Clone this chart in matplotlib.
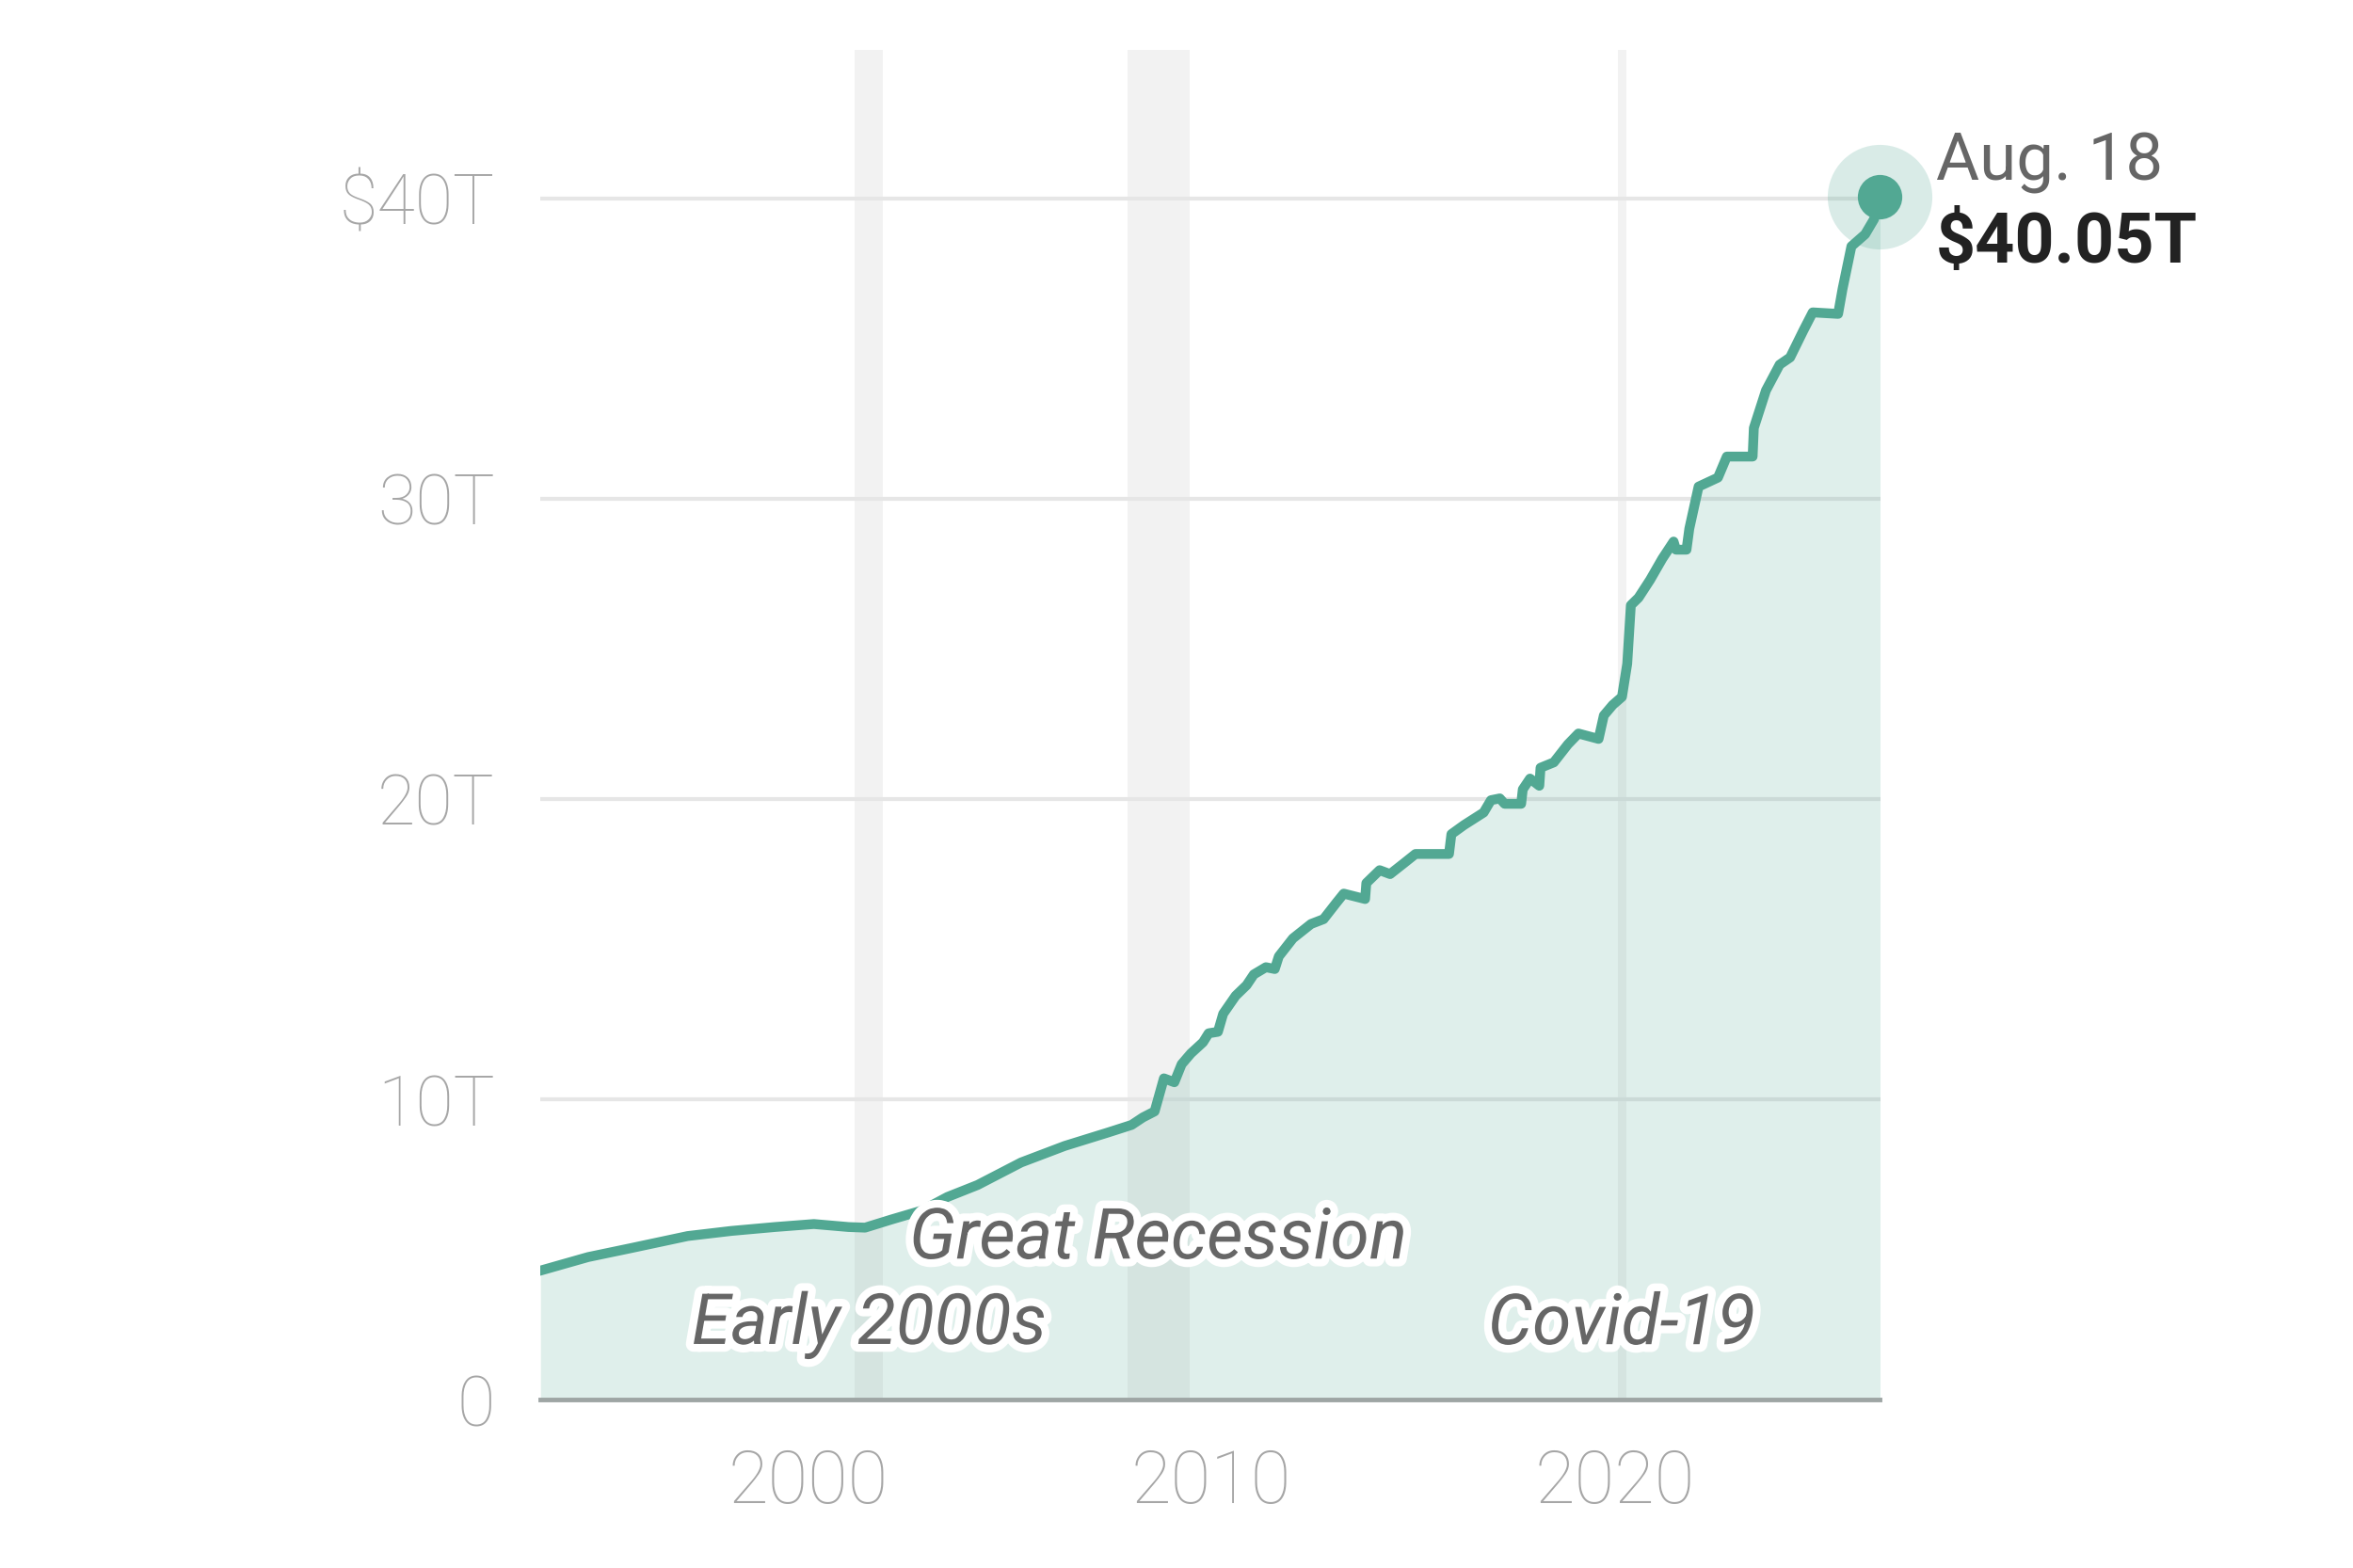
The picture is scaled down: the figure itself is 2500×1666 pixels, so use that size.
import numpy as np
import matplotlib
matplotlib.use("Agg")
import matplotlib.pyplot as plt
import matplotlib.patheffects as pe

plt.rcParams['font.family'] = ['Roboto', 'DejaVu Sans']

# debt (year as decimal, value in trillions of dollars)
years = [1993.37, 1994.55, 1995.62, 1997.02, 1998.10, 1999.18, 2000.15, 2001.01,
         2001.42, 2002.07, 2002.83, 2003.46, 2004.21, 2005.29, 2006.37, 2007.45,
         2008.03, 2008.31, 2008.60, 2008.83, 2009.09, 2009.27, 2009.50, 2009.80,
         2009.94, 2010.17, 2010.30, 2010.61, 2010.88, 2011.06, 2011.36, 2011.58,
         2011.68, 2012.03, 2012.48, 2012.79, 2013.11, 2013.29, 2013.82, 2013.85,
         2014.18, 2014.44, 2014.79, 2015.07, 2015.90, 2015.96, 2016.27, 2016.76,
         2016.94, 2017.16, 2017.28, 2017.69, 2017.73, 2017.91, 2018.14, 2018.17,
         2018.50, 2018.85, 2019.11, 2019.61, 2019.74, 2019.96, 2020.19, 2020.32,
         2020.41, 2020.60, 2020.89, 2021.19, 2021.47, 2021.53, 2021.79, 2021.86,
         2022.09, 2022.57, 2022.79, 2023.43, 2023.46, 2023.76, 2024.10, 2024.36,
         2024.69, 2024.92, 2025.55, 2025.66, 2025.88, 2026.22, 2026.44, 2026.59]
debt = [4.30, 4.75, 5.05, 5.45, 5.62, 5.75, 5.85, 5.75,
        5.73, 6.00, 6.30, 6.75, 7.15, 7.90, 8.45, 8.90,
        9.15, 9.40, 9.60, 10.70, 10.57, 11.17, 11.53, 11.90,
        12.20, 12.25, 12.85, 13.45, 13.80, 14.16, 14.40, 14.34,
        14.76, 15.36, 15.84, 16.00, 16.55, 16.85, 16.67, 17.20,
        17.63, 17.50, 17.87, 18.17, 18.17, 18.83, 19.13, 19.55,
        19.96, 20.02, 19.84, 19.84, 20.32, 20.68, 20.44, 21.04,
        21.22, 21.82, 22.18, 22.00, 22.78, 23.13, 23.40, 24.50,
        26.45, 26.70, 27.30, 28.00, 28.57, 28.30, 28.30, 29.00,
        30.40, 30.70, 31.40, 31.40, 32.35, 33.60, 34.46, 34.70,
        35.60, 36.20, 36.15, 36.98, 38.40, 38.80, 39.30, 40.05]

# recessions
rec_names = ['Early 2000s', 'Great Recession', 'Covid-19']
rec_start = [2001.17, 2007.92, 2020.08]
rec_end = [2001.87, 2009.46, 2020.29]
rec_label_y = [2.5, 5.35, 2.5]

yticks = [0, 10, 20, 30, 40]
ytick_labels = ['0', '10T', '20T', '30T', '$40T']
xticks = [2000, 2010, 2020]

last_date = 'Aug. 18'
last_label = '$40.05T'

line_c = '#52a893'
grid_c = '#e6e6e6'
band_c = '#f2f2f2'
tick_c = '#a6a6a6'

fig = plt.figure(figsize=(25, 16.66), dpi=100)
ax = fig.add_axes([0.2297, 0.1073, 0.5693, 0.8611])

for s, e in zip(rec_start, rec_end):
    ax.axvspan(s, e, color=band_c, lw=0, zorder=0)

for v in yticks[1:]:
    ax.axhline(v, color=grid_c, lw=3, zorder=0.5)

ax.fill_between(years, debt, 0, color=line_c, alpha=0.18, lw=0, zorder=1)
ax.plot(years, debt, color=line_c, lw=7.5, solid_joinstyle='round', zorder=3)

# end point
ax.plot(years[-1], debt[-1], 'o', ms=80, color=line_c, alpha=0.22, mec='none',
        zorder=4, clip_on=False)
ax.plot(years[-1], debt[-1], 'o', ms=34, color=line_c, mec='none', zorder=5, clip_on=False)
ax.annotate(last_date, (years[-1], debt[-1]), xytext=(43, 26), textcoords='offset points',
            ha='left', va='center', fontsize=51, color='#666666', annotation_clip=False)
ax.annotate(last_label, (years[-1], debt[-1]), xytext=(43, -36), textcoords='offset points',
            ha='left', va='center', fontsize=53, fontweight='bold', color='#222222',
            annotation_clip=False)

for name, s, e, y in zip(rec_names, rec_start, rec_end, rec_label_y):
    ax.text((s + e) / 2, y, name, ha='center', va='center', fontsize=54, style='italic',
            color='#666666', zorder=6,
            path_effects=[pe.withStroke(linewidth=12, foreground='white')])

ax.set_xlim(years[0], years[-1])
ax.set_ylim(0, 44.95)
ax.set_yticks(yticks)
ax.set_yticklabels(ytick_labels)
ax.set_xticks(xticks)
ax.tick_params(length=0, labelcolor=tick_c)
ax.tick_params(axis='y', pad=35, labelsize=53)
ax.tick_params(axis='x', pad=37, labelsize=56)
for lab in ax.get_xticklabels() + ax.get_yticklabels():
    lab.set_fontweight('light')

for side in ['top', 'right', 'left']:
    ax.spines[side].set_visible(False)
ax.spines['bottom'].set_color('#9ea5a4')
ax.spines['bottom'].set_linewidth(3.5)
ax.spines['bottom'].set_zorder(2)

fig.savefig('out.png', dpi=100, facecolor='white')
